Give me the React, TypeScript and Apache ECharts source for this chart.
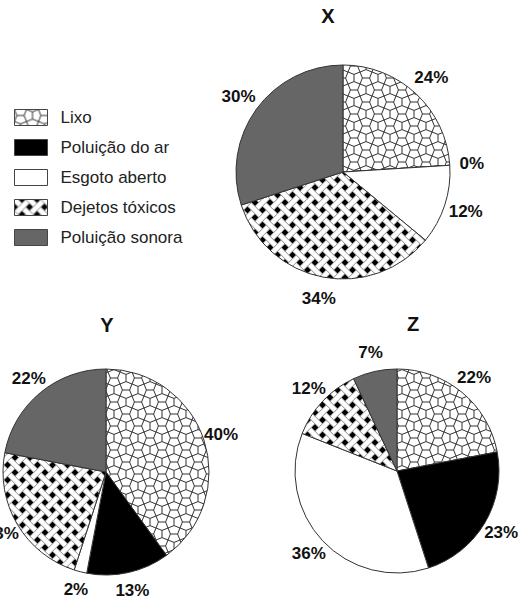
import React, { useEffect, useRef } from 'react';
import * as echarts from 'echarts';

// ---- data ----
const categories = ['Lixo', 'Poluição do ar', 'Esgoto aberto', 'Dejetos tóxicos', 'Poluição sonora'];
const valuesX = [24, 0, 12, 34, 30];
const valuesY = [40, 13, 2, 23, 22];
const valuesZ = [22, 23, 36, 12, 7];
const pieTitles = ['X', 'Y', 'Z'];

// ---- layout (pixels) ----
const pieLayout = [
  { center: [343, 172], r: 107, labelRing: [119, 133], title: [328, 16] },
  { center: [106, 472], r: 103, labelRing: [111, 125], title: [107, 325] },
  { center: [397, 471], r: 102, labelRing: [111, 125], title: [413, 324] },
];

const FONT = '"Liberation Sans", Arial, Helvetica, sans-serif';

function makeCairo(): HTMLCanvasElement {
  const u = 12;
  const T = 2 * u;
  const t = 0.3 * u;
  const c = document.createElement('canvas');
  c.width = T;
  c.height = T;
  const ctx = c.getContext('2d')!;
  ctx.fillStyle = '#ffffff';
  ctx.fillRect(0, 0, T, T);
  ctx.strokeStyle = '#333333';
  ctx.lineWidth = 1;
  ctx.beginPath();
  for (let i = -1; i <= 2; i++) {
    for (let j = -1; j <= 2; j++) {
      const x0 = i * u;
      const y0 = j * u;
      const cx = x0 + u / 2;
      const cy = y0 + u / 2;
      if ((((i + j) % 2) + 2) % 2 === 0) {
        ctx.moveTo(x0, y0);
        ctx.lineTo(cx - t, cy);
        ctx.lineTo(x0, y0 + u);
        ctx.moveTo(cx - t, cy);
        ctx.lineTo(cx + t, cy);
        ctx.moveTo(x0 + u, y0);
        ctx.lineTo(cx + t, cy);
        ctx.lineTo(x0 + u, y0 + u);
      } else {
        ctx.moveTo(x0, y0);
        ctx.lineTo(cx, cy - t);
        ctx.lineTo(x0 + u, y0);
        ctx.moveTo(cx, cy - t);
        ctx.lineTo(cx, cy + t);
        ctx.moveTo(x0, y0 + u);
        ctx.lineTo(cx, cy + t);
        ctx.lineTo(x0 + u, y0 + u);
      }
    }
  }
  ctx.stroke();
  return c;
}

function makeWeave(): HTMLCanvasElement {
  const T = 15;
  const w = 5.3;
  const h = w / Math.SQRT2;
  const c = document.createElement('canvas');
  c.width = T;
  c.height = T;
  const ctx = c.getContext('2d')!;
  ctx.fillStyle = '#000000';
  ctx.fillRect(0, 0, T, T);
  const edge = '#8a8a8a';
  const poly = (pts: number[][]) => {
    ctx.beginPath();
    ctx.moveTo(pts[0][0], pts[0][1]);
    for (let k = 1; k < pts.length; k++) ctx.lineTo(pts[k][0], pts[k][1]);
    ctx.closePath();
    ctx.fillStyle = '#ffffff';
    ctx.fill();
  };
  const seg = (a: number[], b: number[]) => {
    ctx.beginPath();
    ctx.moveTo(a[0], a[1]);
    ctx.lineTo(b[0], b[1]);
    ctx.strokeStyle = edge;
    ctx.lineWidth = 1;
    ctx.stroke();
  };
  const strip = (dirA: boolean, cc: number) => {
    const pts = dirA
      ? [[-T, -T + cc - h], [2 * T, 2 * T + cc - h], [2 * T, 2 * T + cc + h], [-T, -T + cc + h]]
      : [[-T, T + cc - h], [2 * T, -2 * T + cc - h], [2 * T, -2 * T + cc + h], [-T, T + cc + h]];
    poly(pts);
    seg(pts[0], pts[1]);
    seg(pts[3], pts[2]);
  };
  for (let k = -2; k <= 3; k++) strip(false, k * T);
  for (let k = -2; k <= 2; k++) strip(true, k * T);
  const hv = h + 1.2;
  for (let m = -1; m <= 1; m++) {
    for (let n = -1; n <= 1; n++) {
      const X0 = T / 2 + m * T;
      const Y0 = T / 2 + n * T;
      const xy = (uu: number, vv: number) => [X0 + (uu - vv) / 2, Y0 + (uu + vv) / 2];
      poly([xy(-h, -hv), xy(h, -hv), xy(h, hv), xy(-h, hv)]);
      seg(xy(h, -hv), xy(h, hv));
      seg(xy(-h, -hv), xy(-h, hv));
    }
  }
  return c;
}

export default function App() {
  const ref = useRef<HTMLDivElement>(null);

  useEffect(() => {
    if (!ref.current) return;
    const chart = echarts.init(ref.current, undefined, { renderer: 'svg' });

    const cairo = makeCairo();
    const weave = makeWeave();
    const fills: any[] = [
      { image: cairo, repeat: 'repeat', imageWidth: cairo.width, imageHeight: cairo.height },
      '#000000',
      '#ffffff',
      { image: weave, repeat: 'repeat', imageWidth: weave.width, imageHeight: weave.height },
      '#666666',
    ];

    const allValues = [valuesX, valuesY, valuesZ];
    const series: any[] = [];
    allValues.forEach((vals, i) => {
      const L = pieLayout[i];
      series.push({
        type: 'pie',
        name: pieTitles[i],
        center: L.center,
        radius: L.r,
        startAngle: 90,
        clockwise: true,
        silent: true,
        emphasis: { disabled: true },
        label: { show: false },
        labelLine: { show: false },
        itemStyle: { borderColor: '#333333', borderWidth: 1 },
        data: categories.map((name, k) => ({ name, value: vals[k], itemStyle: { color: fills[k] } })),
      });
    });
    allValues.forEach((vals, i) => {
      const L = pieLayout[i];
      series.push({
        type: 'pie',
        name: pieTitles[i] + ' labels',
        center: L.center,
        radius: L.labelRing,
        startAngle: 90,
        clockwise: true,
        silent: true,
        emphasis: { disabled: true },
        itemStyle: { color: 'rgba(0,0,0,0)', borderWidth: 0 },
        label: {
          show: true,
          position: 'inside',
          formatter: '{c}%',
          fontSize: 17,
          fontWeight: 'bold',
          fontFamily: FONT,
          color: '#111111',
          textBorderWidth: 0,
        },
        labelLine: { show: false },
        data: categories.map((name, k) => ({ name, value: vals[k] })),
      });
    });

    chart.setOption({
      animation: false,
      backgroundColor: '#ffffff',
      legend: {
        data: categories,
        orient: 'vertical',
        left: 9,
        top: 104,
        icon: 'rect',
        itemWidth: 33,
        itemHeight: 16,
        itemGap: 13,
        selectedMode: false,
        itemStyle: { borderColor: '#444444', borderWidth: 1 },
        textStyle: { fontSize: 17, color: '#222222', fontFamily: FONT, padding: [0, 0, 0, 8] },
      },
      graphic: pieTitles.map((t, i) => ({
        type: 'text',
        x: pieLayout[i].title[0],
        y: pieLayout[i].title[1],
        style: {
          text: t,
          fontSize: 20,
          fontWeight: 'bold',
          fontFamily: FONT,
          fill: '#111111',
          align: 'center',
          verticalAlign: 'middle',
        },
      })),
      series,
    });

    return () => chart.dispose();
  }, []);

  return (
    <div
      ref={ref}
      style={{ position: 'absolute', left: 0, top: 0, width: 520, height: 601, background: '#fff' }}
    />
  );
}
